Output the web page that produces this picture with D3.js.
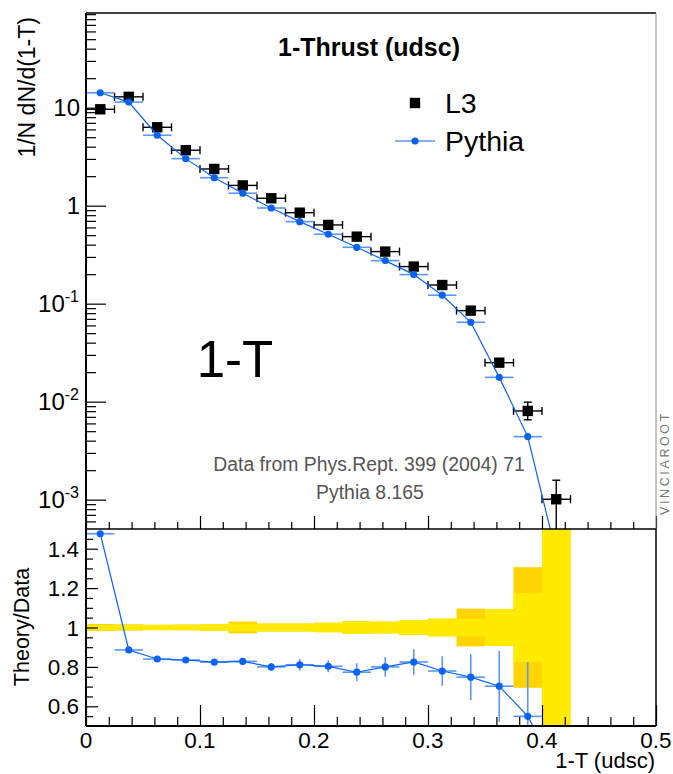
<!DOCTYPE html>
<html><head><meta charset="utf-8">
<script src="https://cdn.jsdelivr.net/npm/d3@7"></script>
<style>
body{margin:0;background:#fff}
svg{display:block}
text{font-family:"Liberation Sans",Arial,Helvetica,sans-serif}
</style>
</head><body>
<svg id="c" width="673" height="774"></svg>
<script>
// ---------------- data ----------------
const binEdges = [0,0.025,0.05,0.075,0.1,0.125,0.15,0.175,0.2,0.225,0.25,0.275,0.3,0.325,0.35,0.375,0.4,0.425];
const l3Values   = [9.63,12.9,6.31,3.68,2.37,1.61,1.19,0.848,0.636,0.483,0.34,0.239,0.155,0.0849,0.025,0.00804,0.00101];
const l3ErrUp    = [0.2,0.25,0.12,0.07,0.045,0.03,0.022,0.016,0.012,0.009,0.007,0.005,0.0035,0.002,0.0008,0.00185,0.00057];
const l3ErrDown  = [0.2,0.25,0.12,0.07,0.045,0.03,0.022,0.016,0.012,0.009,0.007,0.005,0.0035,0.002,0.0008,0.00151,0.0006];
const pythiaValues = [14.2,11.4,5.23,3.02,1.93,1.34,0.947,0.687,0.511,0.376,0.275,0.198,0.122,0.0646,0.0177,0.0044,0.00028];
const ratioValues  = [1.476,0.886,0.84,0.835,0.824,0.828,0.80,0.811,0.803,0.773,0.80,0.825,0.779,0.748,0.702,0.549,0.28];
const ratioErr     = [0.004,0.006,0.006,0.006,0.008,0.01,0.02,0.03,0.03,0.045,0.05,0.065,0.075,0.117,0.18,0.275,0];
const bandTotal = [0.018,0.016,0.014,0.015,0.016,0.030,0.020,0.020,0.024,0.032,0.030,0.038,0.045,0.096,0.090,0.306,1.0];
const bandStat  = [0.014,0.012,0.013,0.013,0.016,0.020,0.020,0.020,0.024,0.032,0.030,0.038,0.045,0.045,0.094,0.176,1.0];
const yMajorTicks = [0.001,0.01,0.1,1,10];
const yMajorLabels = [["10","-3"],["10","-2"],["10","-1"],["1",""],["10",""]];
const ratioTicks = [0.6,0.8,1,1.2,1.4];
const ratioTickLabels = ["0.6","0.8","1","1.2","1.4"];
const xTicks = [0,0.1,0.2,0.3,0.4,0.5];
const xTickLabels = ["0","0.1","0.2","0.3","0.4","0.5"];

// ---------------- layout ----------------
const svg = d3.select("#c");
const xL=86, xR=656, yT=13, yM=529, yB=726;
const BLUE="#0b63f6", BLUE_ERR="#5a97fb";
const x = d3.scaleLinear().domain([0,0.5]).range([xL,xR]);
const yU = d3.scaleLog().domain([5.02e-4,92.5]).range([yM,yT]);
const yR = d3.scaleLinear().domain([0.5,1.5]).range([yB,yM]);

const bins = l3Values.map((v,i)=>({
  lo:binEdges[i], hi:binEdges[i+1], c:(binEdges[i]+binEdges[i+1])/2,
  l3:v, eu:l3ErrUp[i], ed:l3ErrDown[i], py:pythiaValues[i],
  r:ratioValues[i], re:ratioErr[i], bt:bandTotal[i], bs:bandStat[i]
}));

const defs = svg.append("defs");
defs.append("clipPath").attr("id","clipU").append("rect").attr("x",xL).attr("y",yT).attr("width",xR-xL).attr("height",yM-yT);
defs.append("clipPath").attr("id","clipL").append("rect").attr("x",xL).attr("y",yM).attr("width",xR-xL).attr("height",yB-yM);

// ---------------- lower panel: band ----------------
const gL = svg.append("g").attr("clip-path","url(#clipL)");
gL.selectAll("rect.bt").data(bins).join("rect")
  .attr("x",d=>x(d.lo)).attr("width",d=>x(d.hi)-x(d.lo))
  .attr("y",d=>yR(1+d.bt)).attr("height",d=>yR(1-d.bt)-yR(1+d.bt))
  .attr("fill","#ffd400");
gL.selectAll("rect.bs").data(bins).join("rect")
  .attr("x",d=>x(d.lo)).attr("width",d=>x(d.hi)-x(d.lo))
  .attr("y",d=>yR(1+d.bs)).attr("height",d=>yR(1-d.bs)-yR(1+d.bs))
  .attr("fill","#ffea00");
// ratio error bars
gL.selectAll("line.rh").data(bins).join("line")
  .attr("x1",d=>x(d.lo)).attr("x2",d=>x(d.hi)).attr("y1",d=>yR(d.r)).attr("y2",d=>yR(d.r))
  .attr("stroke",BLUE_ERR).attr("stroke-width",1.6);
gL.selectAll("line.rv").data(bins).join("line")
  .attr("x1",d=>x(d.c)).attr("x2",d=>x(d.c)).attr("y1",d=>yR(d.r-d.re)).attr("y2",d=>yR(d.r+d.re))
  .attr("stroke",BLUE_ERR).attr("stroke-width",1.6);
gL.append("path").datum(bins)
  .attr("d",d3.line().x(d=>x(d.c)).y(d=>yR(d.r)))
  .attr("fill","none").attr("stroke",BLUE).attr("stroke-width",1.2);
gL.selectAll("circle").data(bins).join("circle")
  .attr("cx",d=>x(d.c)).attr("cy",d=>yR(d.r)).attr("r",3.6).attr("fill",BLUE);

// ---------------- upper panel ----------------
const gU = svg.append("g").attr("clip-path","url(#clipU)");
// L3 error bars
gU.selectAll("line.lh").data(bins).join("line")
  .attr("x1",d=>x(d.lo)).attr("x2",d=>x(d.hi)).attr("y1",d=>yU(d.l3)).attr("y2",d=>yU(d.l3))
  .attr("stroke","#000").attr("stroke-width",1.4);
gU.selectAll("line.lcl").data(bins).join("line")
  .attr("x1",d=>x(d.lo)).attr("x2",d=>x(d.lo)).attr("y1",d=>yU(d.l3)-4).attr("y2",d=>yU(d.l3)+4)
  .attr("stroke","#000").attr("stroke-width",1.4);
gU.selectAll("line.lcr").data(bins).join("line")
  .attr("x1",d=>x(d.hi)).attr("x2",d=>x(d.hi)).attr("y1",d=>yU(d.l3)-4).attr("y2",d=>yU(d.l3)+4)
  .attr("stroke","#000").attr("stroke-width",1.4);
gU.selectAll("line.lv").data(bins).join("line")
  .attr("x1",d=>x(d.c)).attr("x2",d=>x(d.c)).attr("y1",d=>yU(d.l3-d.ed)).attr("y2",d=>yU(d.l3+d.eu))
  .attr("stroke","#000").attr("stroke-width",1.4);
gU.selectAll("line.lct").data(bins).join("line")
  .attr("x1",d=>x(d.c)-4).attr("x2",d=>x(d.c)+4).attr("y1",d=>yU(d.l3+d.eu)).attr("y2",d=>yU(d.l3+d.eu))
  .attr("stroke","#000").attr("stroke-width",1.4);
gU.selectAll("line.lcb").data(bins).join("line")
  .attr("x1",d=>x(d.c)-4).attr("x2",d=>x(d.c)+4).attr("y1",d=>yU(d.l3-d.ed)).attr("y2",d=>yU(d.l3-d.ed))
  .attr("stroke","#000").attr("stroke-width",1.4);
gU.selectAll("rect.l3").data(bins).join("rect")
  .attr("x",d=>x(d.c)-5.2).attr("y",d=>yU(d.l3)-5.2).attr("width",10.4).attr("height",10.4).attr("fill","#000");
// Pythia
gU.selectAll("line.ph").data(bins).join("line")
  .attr("x1",d=>x(d.lo)).attr("x2",d=>x(d.hi)).attr("y1",d=>yU(d.py)).attr("y2",d=>yU(d.py))
  .attr("stroke",BLUE_ERR).attr("stroke-width",1.6);
gU.append("path").datum(bins)
  .attr("d",d3.line().x(d=>x(d.c)).y(d=>yU(d.py)))
  .attr("fill","none").attr("stroke",BLUE).attr("stroke-width",1.2);
gU.selectAll("circle").data(bins).join("circle")
  .attr("cx",d=>x(d.c)).attr("cy",d=>yU(d.py)).attr("r",3.6).attr("fill",BLUE);

// ---------------- axes ----------------
function minorLogTicks(){
  const t=[];
  for(let e=-4;e<=1;e++) for(let m=2;m<=9;m++){const v=m*Math.pow(10,e); if(v>yU.domain()[0]&&v<yU.domain()[1]) t.push(v);}
  return t;
}
function styleAxis(g){g.select(".domain").remove(); g.selectAll(".tick line").attr("stroke","#000").attr("stroke-width",1.2);}
svg.append("g").attr("transform",`translate(${xL},0)`).call(d3.axisLeft(yU).tickValues(minorLogTicks()).tickSize(-10).tickFormat("")).call(styleAxis);
svg.append("g").attr("transform",`translate(${xL},0)`).call(d3.axisLeft(yU).tickValues(yMajorTicks).tickSize(-20).tickFormat("")).call(styleAxis);
const minorX = d3.range(0,26).map(i=>i*0.02).filter(v=>Math.abs(v*10-Math.round(v*10))>1e-6);
svg.append("g").attr("transform",`translate(0,${yM})`).call(d3.axisBottom(x).tickValues(minorX).tickSize(-7).tickFormat("")).call(styleAxis);
svg.append("g").attr("transform",`translate(0,${yM})`).call(d3.axisBottom(x).tickValues(xTicks).tickSize(-13).tickFormat("")).call(styleAxis);
svg.append("g").attr("transform",`translate(0,${yB})`).call(d3.axisBottom(x).tickValues(minorX).tickSize(-9).tickFormat("")).call(styleAxis);
svg.append("g").attr("transform",`translate(0,${yB})`).call(d3.axisBottom(x).tickValues(xTicks).tickSize(-21).tickFormat("")).call(styleAxis);
const minorR = d3.range(11,30).map(i=>i*0.05).filter(v=>v<1.5 && Math.abs(v*5-Math.round(v*5))>1e-6);
svg.append("g").attr("transform",`translate(${xL},0)`).call(d3.axisLeft(yR).tickValues(minorR).tickSize(-7).tickFormat("")).call(styleAxis);
svg.append("g").attr("transform",`translate(${xL},0)`).call(d3.axisLeft(yR).tickValues(ratioTicks).tickSize(-12).tickFormat("")).call(styleAxis);

// frames
svg.append("line").attr("x1",xL).attr("x2",xR).attr("y1",yT).attr("y2",yT).attr("stroke","#000").attr("stroke-width",1.5);
svg.append("line").attr("x1",xR).attr("x2",xR).attr("y1",yT).attr("y2",yM).attr("stroke","#888").attr("stroke-width",1);
svg.append("line").attr("x1",xR).attr("x2",xR).attr("y1",yM).attr("y2",yB).attr("stroke","#000").attr("stroke-width",1.5);
svg.append("line").attr("x1",xL).attr("x2",xL).attr("y1",yT).attr("y2",yB).attr("stroke","#000").attr("stroke-width",2);
svg.append("line").attr("x1",xL).attr("x2",xR).attr("y1",yM).attr("y2",yM).attr("stroke","#000").attr("stroke-width",1.5);
svg.append("line").attr("x1",xL).attr("x2",xR).attr("y1",yB).attr("y2",yB).attr("stroke","#000").attr("stroke-width",2);

// tick labels
const yl = svg.append("g").attr("font-size",24).attr("text-anchor","end");
yMajorTicks.forEach((v,i)=>{
  const t = yl.append("text").attr("x",yMajorLabels[i][1]? 79:80).attr("y",yU(v)+8.5);
  t.append("tspan").text(yMajorLabels[i][0]);
  if(yMajorLabels[i][1]) t.append("tspan").attr("font-size",16).attr("dy",-10).text(yMajorLabels[i][1]);
});
const rl = svg.append("g").attr("font-size",22.5).attr("text-anchor","end");
ratioTicks.forEach((v,i)=>rl.append("text").attr("x",79).attr("y",yR(v)+8).text(ratioTickLabels[i]));
const xl = svg.append("g").attr("font-size",22.5).attr("text-anchor","middle");
xTicks.forEach((v,i)=>xl.append("text").attr("x",x(v)).attr("y",748).text(xTickLabels[i]));

// axis titles
svg.append("text").attr("transform","translate(35,17) rotate(-90)").attr("text-anchor","end").attr("font-size",23).text("1/N dN/d(1-T)");
svg.append("text").attr("transform","translate(29,627) rotate(-90)").attr("text-anchor","middle").attr("font-size",21.5).text("Theory/Data");
svg.append("text").attr("x",655).attr("y",768).attr("text-anchor","end").attr("font-size",22).text("1-T (udsc)");

// title & annotations
svg.append("text").attr("x",369).attr("y",56).attr("text-anchor","middle").attr("font-size",25).attr("font-weight","bold").text("1-Thrust (udsc)");
svg.append("text").attr("x",235).attr("y",377).attr("text-anchor","middle").attr("font-size",51).text("1-T");
svg.append("text").attr("x",369).attr("y",471).attr("text-anchor","middle").attr("font-size",19.4).attr("fill","#555").text("Data from Phys.Rept. 399 (2004) 71");
svg.append("text").attr("x",370).attr("y",499).attr("text-anchor","middle").attr("font-size",19.4).attr("fill","#555").text("Pythia 8.165");
svg.append("text").attr("transform","translate(669,463) rotate(-90)").attr("text-anchor","middle").attr("font-size",12.5).attr("letter-spacing",2.6).attr("fill","#777").text("VINCIAROOT");

// legend
svg.append("rect").attr("x",415-5.2).attr("y",103-5.2).attr("width",10.4).attr("height",10.4).attr("fill","#000");
svg.append("text").attr("x",445).attr("y",113).attr("font-size",28.5).text("L3");
svg.append("line").attr("x1",395).attr("x2",435).attr("y1",141).attr("y2",141).attr("stroke",BLUE).attr("stroke-width",1.2);
svg.append("circle").attr("cx",415).attr("cy",141).attr("r",3.6).attr("fill",BLUE);
svg.append("text").attr("x",445).attr("y",151).attr("font-size",28.5).text("Pythia");
</script>
</body></html>
